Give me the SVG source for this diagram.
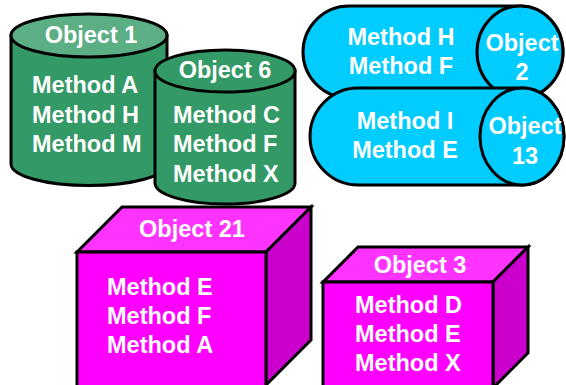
<svg xmlns="http://www.w3.org/2000/svg" width="566" height="385" viewBox="0 0 566 385">
<style>
.s{stroke:#000;stroke-width:3;stroke-linejoin:miter}
.g{fill:#339966}
.gl{fill:#5cae84}
.b{fill:#00ccff}
.mf{fill:#ff00ff}
.mt{fill:#ff33ff}
.mr{fill:#cc00cc}
text{font-family:"Liberation Sans",Arial,sans-serif;font-weight:bold;font-size:23.5px;fill:#fff}
.c{text-anchor:middle}
</style>
<rect width="566" height="385" fill="#fff"/>
<g id="object1">
<path class="s g" d="M11,35.5 L11,164 A78,21.5 0 0 0 167,164 L167,35.5 Z"/>
<ellipse class="s gl" cx="89" cy="35.5" rx="78" ry="21.5"/>
<text class="c" x="91" y="43">Object 1</text>
<text x="32" y="93">Method A</text>
<text x="32" y="123">Method H</text>
<text x="32" y="152">Method M</text>
</g>
<g id="object6">
<path class="s g" d="M155,71 L155,183 A70,21 0 0 0 295,183 L295,71 Z"/>
<ellipse class="s g" cx="225" cy="71" rx="70" ry="21"/>
<text class="c" x="225" y="78">Object 6</text>
<text x="173" y="123">Method C</text>
<text x="173" y="152">Method F</text>
<text x="173" y="182">Method X</text>
</g>
<g id="object2">
<path class="s b" d="M349,6 L520,6 A43,46 0 0 1 520,98 L349,98 A46,46 0 0 1 349,6 Z"/>
<ellipse class="s b" cx="520" cy="52" rx="43" ry="46"/>
<text class="c" x="401" y="45">Method H</text>
<text class="c" x="401" y="74">Method F</text>
<text class="c" x="522" y="51">Object</text>
<text class="c" x="522" y="80">2</text>
</g>
<g id="object13">
<path class="s b" d="M358,88 L522,88 A42,48.5 0 0 1 522,185 L358,185 A48,48.5 0 0 1 358,88 Z"/>
<ellipse class="s b" cx="522" cy="136.5" rx="42" ry="48.5"/>
<text class="c" x="405" y="129">Method I</text>
<text class="c" x="405" y="158">Method E</text>
<text class="c" x="525" y="134">Object</text>
<text class="c" x="525" y="164">13</text>
</g>
<g id="object21">
<polygon class="s mt" points="77,252 122,207 311,207 266,252"/>
<polygon class="s mr" points="266,252 311,207 311,340 266,385 266,252"/>
<rect class="s mf" x="77" y="252" width="189" height="140"/>
<text class="c" x="192" y="237">Object 21</text>
<text x="107" y="295">Method E</text>
<text x="107" y="324">Method F</text>
<text x="107" y="353">Method A</text>
</g>
<g id="object3">
<polygon class="s mt" points="323,282 358,247 528,247 493,282"/>
<polygon class="s mr" points="493,282 528,247 528,353 493,388"/>
<rect class="s mf" x="323" y="282" width="170" height="110"/>
<text class="c" x="420" y="273">Object 3</text>
<text x="355" y="313">Method D</text>
<text x="355" y="342">Method E</text>
<text x="355" y="371">Method X</text>
</g>
<g id="connectors"></g>
</svg>
